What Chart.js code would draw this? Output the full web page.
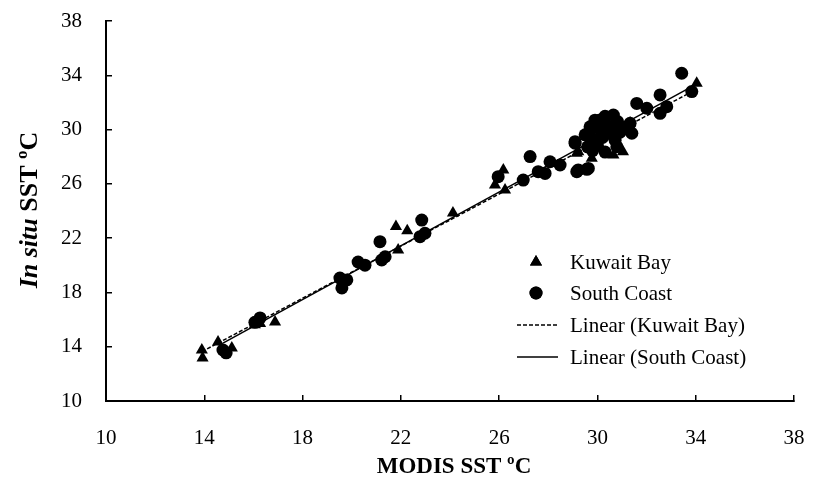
<!DOCTYPE html>
<html>
<head>
<meta charset="utf-8">
<script src="https://cdn.jsdelivr.net/npm/chart.js@4.4.1/dist/chart.umd.min.js"></script>
<style>
html, body { margin: 0; padding: 0; background: #fff; }
#wrap { width: 825px; height: 478px; position: relative; }
</style>
</head>
<body>
<div id="wrap"><canvas id="chart1"></canvas></div>
<script>
// Kuwait Bay (triangles)
const kuwaitX = [13.90, 13.93, 14.56, 15.12, 16.06, 16.27, 16.88, 21.80, 22.26, 21.89, 24.12,
    25.83, 26.17, 26.24, 29.22, 29.16, 29.77, 30.65, 31.04, 29.90, 30.31, 30.72, 31.33, 34.04];
const kuwaitY = [13.76, 13.16, 14.34, 13.90, 15.61, 15.71, 15.82, 22.85, 22.55, 21.13, 23.85,
    25.92, 27.03, 25.55, 28.37, 28.25, 27.89, 28.12, 28.37, 29.12, 29.61, 30.20, 30.49, 33.41];

// South Coast (circles)
const southX = [14.76, 14.89, 16.06, 16.27, 19.52, 19.60, 19.80, 20.26, 20.54, 21.15, 21.22, 21.36,
    22.85, 22.98, 22.78, 25.96, 26.98, 27.26, 27.59, 27.87, 28.07, 28.48, 29.16, 29.57, 29.09,
    29.09, 29.22, 29.63, 30.65, 30.11, 29.70, 31.33, 31.40, 30.79, 31.60, 32.01, 32.55, 32.55,
    32.82, 33.43, 33.84, 29.50, 29.70, 29.80, 29.90, 30.00, 30.11, 30.21, 30.31, 30.41, 30.51,
    30.61, 30.72, 30.82, 30.92, 31.12, 29.80, 30.31, 29.60];
const southY = [13.76, 13.55, 15.80, 16.12, 19.06, 18.33, 18.92, 20.24, 20.01, 21.74, 20.39, 20.63,
    23.33, 22.36, 22.11, 26.53, 26.28, 28.01, 26.90, 26.77, 27.63, 27.39, 26.90, 27.07, 28.99,
    29.11, 27.03, 27.14, 31.07, 30.71, 29.98, 30.46, 29.73, 28.74, 31.93, 31.57, 32.55, 31.20,
    31.69, 34.15, 32.80, 29.61, 30.20, 29.32, 30.69, 28.83, 30.00, 29.42, 30.98, 30.30, 29.71,
    30.00, 29.22, 30.59, 29.81, 30.10, 28.44, 28.34, 28.73];

const axisMin = 10;
const axisMax = 38;
const axisStep = 4;

const serif = "'Liberation Serif', 'Times New Roman', serif";

function toPoints(xs, ys) {
    return xs.map(function (x, i) { return { x: x, y: ys[i] }; });
}

// least squares trend line over the x range of the series
function trend(xs, ys) {
    const n = xs.length;
    let sx = 0, sy = 0, sxx = 0, sxy = 0;
    for (let i = 0; i < n; i++) {
        sx += xs[i]; sy += ys[i]; sxx += xs[i] * xs[i]; sxy += xs[i] * ys[i];
    }
    const b = (n * sxy - sx * sy) / (n * sxx - sx * sx);
    const a = (sy - b * sx) / n;
    const lo = Math.min.apply(null, xs);
    const hi = Math.max.apply(null, xs);
    return [{ x: lo, y: a + b * lo }, { x: hi, y: a + b * hi }];
}

// legend + axis titles (y title mixes italic and bold)
const extras = {
    id: 'extras',
    afterDraw: function (chart) {
        const c = chart.ctx;
        c.save();
        c.fillStyle = '#000';
        c.strokeStyle = '#000';

        // y title
        c.translate(30, 210);
        c.rotate(-Math.PI / 2);
        c.textBaseline = 'middle';
        const f1 = 'italic bold 26px ' + serif;
        const f2 = 'bold 26px ' + serif;
        c.font = f1;
        const t1 = 'In situ';
        const w1 = c.measureText(t1).width;
        c.font = f2;
        const t2 = ' SST ºC';
        const w2 = c.measureText(t2).width;
        const x0 = -(w1 + w2) / 2;
        c.font = f1;
        c.textAlign = 'left';
        c.fillText(t1, x0, 0);
        c.font = f2;
        c.fillText(t2, x0 + w1, 0);
        c.setTransform(1, 0, 0, 1, 0, 0);

        // x title
        c.font = 'bold 23px ' + serif;
        c.textAlign = 'center';
        c.textBaseline = 'middle';
        c.fillText('MODIS SST ºC', 454, 467);

        // legend
        const mx = 536, tx = 570;
        const rows = [262, 293, 325, 357];
        c.font = '21px ' + serif;
        c.textAlign = 'left';
        chart.data.datasets.forEach(function (ds, i) {
            const y = rows[i];
            if (ds.showLine) {
                c.lineWidth = 1.5;
                c.setLineDash(ds.borderDash || []);
                c.beginPath();
                c.moveTo(mx - 19, y);
                c.lineTo(mx + 22, y);
                c.stroke();
                c.setLineDash([]);
            } else {
                Chart.helpers.drawPoint(c, {
                    pointStyle: ds.pointStyle, radius: ds.pointRadius, borderWidth: 0
                }, mx, y);
                c.fill();
            }
            c.fillText(ds.label, tx, y + 1);
        });
        c.restore();
    }
};

const axisFont = { family: serif, size: 21 };

new Chart(document.getElementById('chart1'), {
    type: 'scatter',
    data: {
        datasets: [
            {
                label: 'Kuwait Bay',
                data: toPoints(kuwaitX, kuwaitY),
                pointStyle: 'triangle',
                pointRadius: 7,
                backgroundColor: '#000',
                borderColor: '#000',
                borderWidth: 0,
                order: 2
            },
            {
                label: 'South Coast',
                data: toPoints(southX, southY),
                pointStyle: 'circle',
                pointRadius: 6.5,
                backgroundColor: '#000',
                borderColor: '#000',
                borderWidth: 0,
                order: 1
            },
            {
                label: 'Linear (Kuwait Bay)',
                data: trend(kuwaitX, kuwaitY),
                showLine: true,
                pointRadius: 0,
                borderColor: '#000',
                borderWidth: 1.5,
                borderDash: [4, 2],
                order: 0
            },
            {
                label: 'Linear (South Coast)',
                data: trend(southX, southY),
                showLine: true,
                pointRadius: 0,
                borderColor: '#000',
                borderWidth: 1.5,
                order: 0
            }
        ]
    },
    options: {
        responsive: true,
        maintainAspectRatio: false,
        animation: false,
        layout: { padding: { left: 0, right: 31, top: 21, bottom: 0 } },
        plugins: {
            legend: { display: false },
            tooltip: { enabled: false }
        },
        scales: {
            x: {
                type: 'linear',
                min: axisMin,
                max: axisMax,
                ticks: { stepSize: axisStep, color: '#000', font: axisFont, padding: 31, maxRotation: 0 },
                grid: { drawOnChartArea: false, color: '#000', lineWidth: 1.5, tickLength: -6 },
                border: { display: true, color: '#000', width: 2 },
                afterFit: function (s) {
                    s.height = 77;
                    s.paddingLeft = 0;
                    s.paddingRight = 0;
                }
            },
            y: {
                type: 'linear',
                min: axisMin,
                max: axisMax,
                ticks: { stepSize: axisStep, color: '#000', font: axisFont, padding: 30 },
                grid: { drawOnChartArea: false, color: '#000', lineWidth: 1.5, tickLength: -6 },
                border: { display: true, color: '#000', width: 2 },
                afterFit: function (s) {
                    s.width = 106;
                    s.paddingTop = 0;
                    s.paddingBottom = 0;
                }
            }
        }
    },
    plugins: [extras]
});
</script>
</body>
</html>
